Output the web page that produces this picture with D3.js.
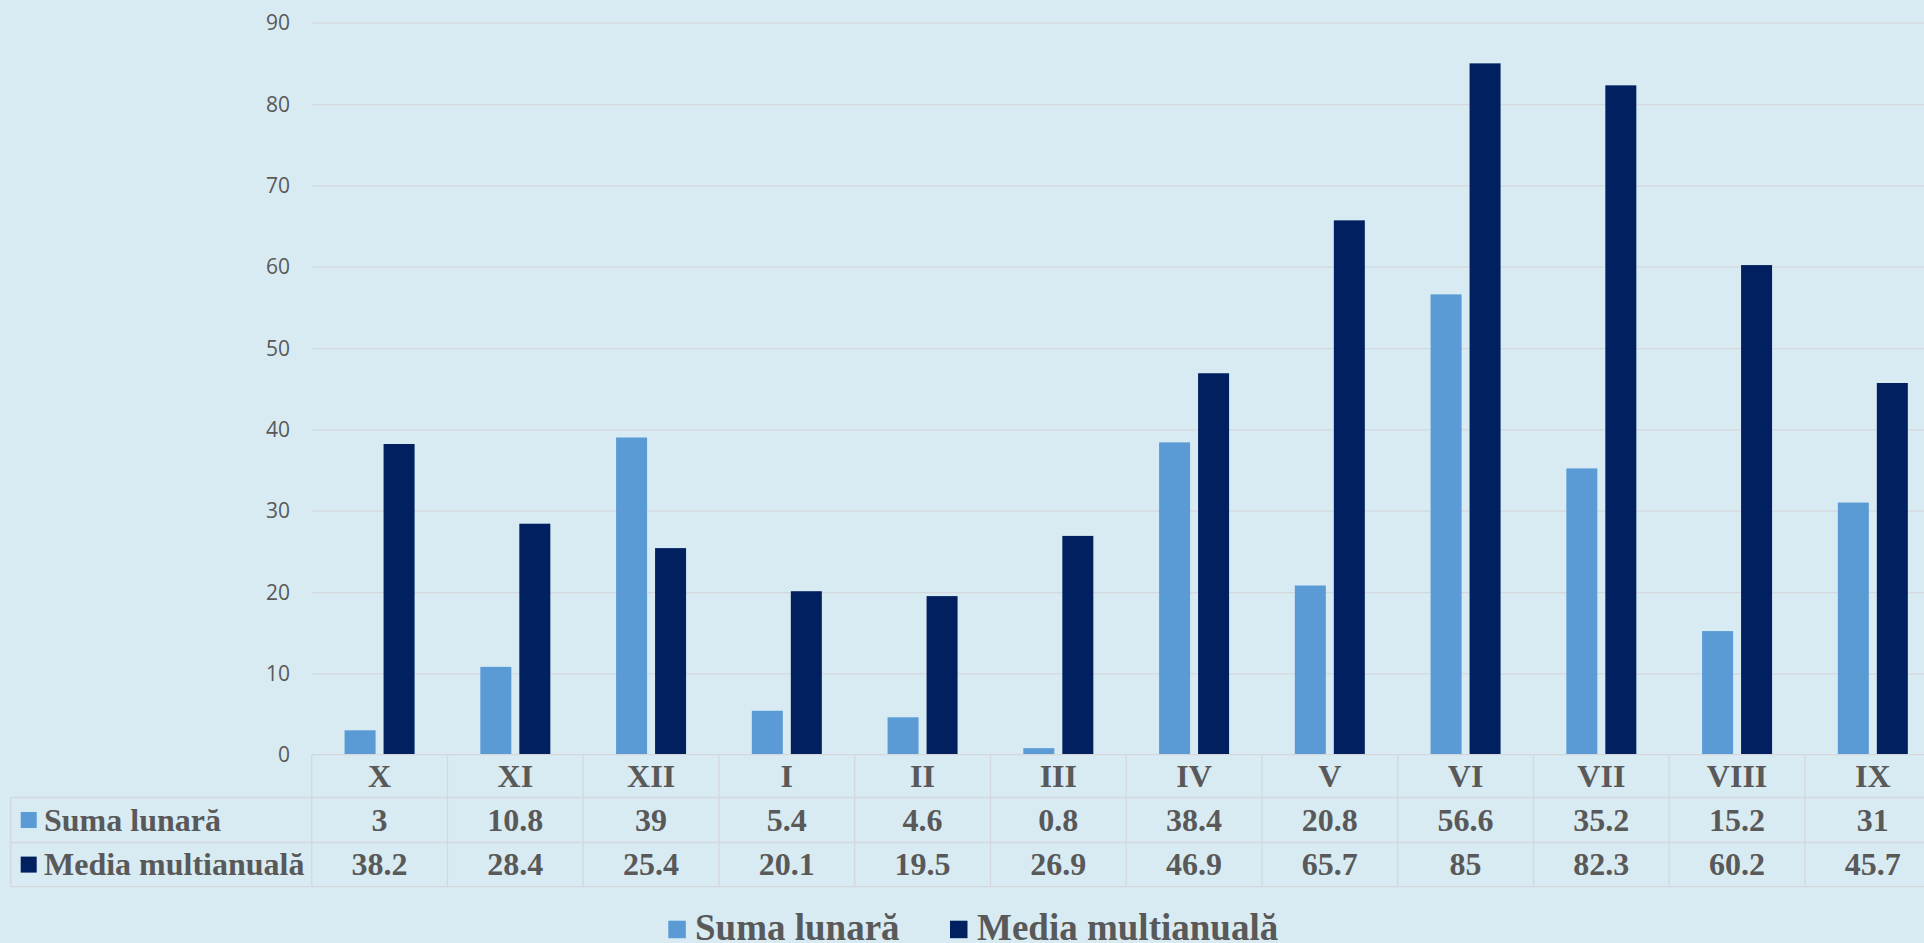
<!DOCTYPE html>
<html>
<head>
<meta charset="utf-8">
<script src="https://cdn.jsdelivr.net/npm/d3@7/dist/d3.min.js"></script>
<style>
  html, body { margin: 0; padding: 0; background: #d8ebf2; overflow: hidden; }
  svg { display: block; }
</style>
</head>
<body>
<svg id="chart" width="1924" height="943"></svg>
<script>
const categories = ["X", "XI", "XII", "I", "II", "III", "IV", "V", "VI", "VII", "VIII", "IX"];
const seriesNames = ["Suma lunară", "Media multianuală"];
const sumaLunara = [3, 10.8, 39, 5.4, 4.6, 0.8, 38.4, 20.8, 56.6, 35.2, 15.2, 31];
const mediaMultianuala = [38.2, 28.4, 25.4, 20.1, 19.5, 26.9, 46.9, 65.7, 85, 82.3, 60.2, 45.7];
const yTicks = [0, 10, 20, 30, 40, 50, 60, 70, 80, 90];
const colors = ["#5b9bd5", "#002060"];

const seriesValues = [sumaLunara, mediaMultianuala];

const svg = d3.select("#chart");
const W = 1924, H = 943;
svg.append("rect").attr("width", W).attr("height", H).attr("fill", "#d8ebf2");

const plotLeft = 311.7, colW = 135.75;
const plotRight = plotLeft + colW * categories.length;
const y0 = 754.7, y90 = 22.7;
const textColor = "#595959";
const lineColor = "#d4d8dc";

const x = d3.scaleBand().domain(categories).range([plotLeft, plotRight]).padding(0);
const x1 = d3.scaleBand().domain(seriesNames).range([0, x.bandwidth()])
  .paddingInner(8 / 39).paddingOuter(0.843);
const y = d3.scaleLinear().domain([0, 90]).range([y0, y90]);

// gridlines + y axis labels
const yAxis = d3.axisLeft(y).tickValues(yTicks).tickSize(0).tickPadding(0).tickFormat(d3.format("d"));
const gy = svg.append("g").attr("transform", `translate(${plotLeft},0)`).call(yAxis);
gy.select(".domain").remove();
gy.selectAll(".tick text")
  .attr("x", -21.7)
  .attr("dy", "0.34em")
  .attr("fill", textColor)
  .style("font-family", "'Open Sans', sans-serif")
  .style("font-size", "21px");
gy.selectAll(".tick").filter(d => d !== 0).append("line")
  .attr("x1", 0).attr("x2", plotRight - plotLeft)
  .attr("stroke", lineColor).attr("stroke-width", 1.3);

// bars
const groups = svg.append("g").selectAll("g")
  .data(categories)
  .join("g")
  .attr("transform", d => `translate(${x(d)},0)`);
groups.selectAll("rect")
  .data((d, i) => seriesNames.map((s, j) => ({ s, v: seriesValues[j][i], j })))
  .join("rect")
  .attr("x", d => x1(d.s))
  .attr("width", x1.bandwidth())
  .attr("y", d => y(d.v))
  .attr("height", d => y(0) - y(d.v))
  .attr("fill", d => colors[d.j]);

// data table
const rowTops = [754.7, 797.5, 842.5, 886.7];
const tableLeft = 10.7;
const tg = svg.append("g");
// horizontal lines
tg.append("line").attr("x1", plotLeft).attr("x2", plotRight).attr("y1", rowTops[0]).attr("y2", rowTops[0])
  .attr("stroke", lineColor).attr("stroke-width", 1.3);
[1, 2, 3].forEach(r => {
  tg.append("line").attr("x1", tableLeft).attr("x2", plotRight).attr("y1", rowTops[r]).attr("y2", rowTops[r])
    .attr("stroke", lineColor).attr("stroke-width", 1.3);
});
// vertical lines
tg.append("line").attr("x1", tableLeft).attr("x2", tableLeft).attr("y1", rowTops[1]).attr("y2", rowTops[3])
  .attr("stroke", lineColor).attr("stroke-width", 1.3);
categories.forEach(c => {
  tg.append("line").attr("x1", x(c)).attr("x2", x(c)).attr("y1", rowTops[0]).attr("y2", rowTops[3])
    .attr("stroke", lineColor).attr("stroke-width", 1.3);
});
tg.append("line").attr("x1", plotRight).attr("x2", plotRight).attr("y1", rowTops[0]).attr("y2", rowTops[3])
  .attr("stroke", lineColor).attr("stroke-width", 1.3);

const serif = "'Liberation Serif', 'Times New Roman', serif";
// category labels
tg.selectAll("text.cat").data(categories).join("text")
  .attr("class", "cat")
  .attr("x", d => x(d) + x.bandwidth() / 2)
  .attr("y", (rowTops[0] + rowTops[1]) / 2 + 10.5)
  .attr("text-anchor", "middle")
  .attr("fill", textColor)
  .style("font-family", serif).style("font-weight", "bold").style("font-size", "32px")
  .text(d => d);

// series rows
seriesNames.forEach((s, j) => {
  const cy = (rowTops[j + 1] + rowTops[j + 2]) / 2;
  tg.append("rect").attr("x", 20.7).attr("y", cy - 8).attr("width", 16).attr("height", 16)
    .attr("fill", colors[j]);
  tg.append("text").attr("x", 44).attr("y", cy + 10.5)
    .attr("fill", textColor)
    .style("font-family", serif).style("font-weight", "bold").style("font-size", "32px")
    .text(s);
  tg.selectAll(null).data(seriesValues[j]).join("text")
    .attr("x", (d, i) => x(categories[i]) + x.bandwidth() / 2)
    .attr("y", cy + 10.5)
    .attr("text-anchor", "middle")
    .attr("fill", textColor)
    .style("font-family", serif).style("font-weight", "bold").style("font-size", "32px")
    .text(d => String(d));
});

// legend
const legendItems = [
  { s: seriesNames[0], c: colors[0], kx: 668.3, tx: 695 },
  { s: seriesNames[1], c: colors[1], kx: 950, tx: 977 }
];
const lg = svg.append("g");
legendItems.forEach(it => {
  lg.append("rect").attr("x", it.kx).attr("y", 920.7).attr("width", 17.5).attr("height", 17.5).attr("fill", it.c);
  lg.append("text").attr("x", it.tx).attr("y", 939.5)
    .attr("fill", textColor)
    .style("font-family", serif).style("font-weight", "bold").style("font-size", "37px")
    .text(it.s);
});
</script>
</body>
</html>
